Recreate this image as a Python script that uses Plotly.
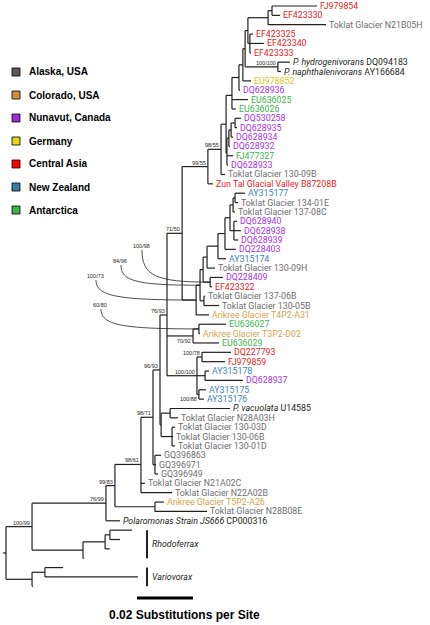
import plotly.graph_objects as go
from functools import lru_cache

# ------------------------------------------------------------------ data
leaf_names = [
    "FJ979854", "EF423330", "Toklat Glacier N21B05H", "EF423325", "EF423340", "EF423333",
    "<i>P. hydrogenivorans</i> DQ094183", "<i>P. naphthalenivorans</i> AY166684",
    "EU978852", "DQ628936", "EU636025", "EU636026", "DQ530258", "DQ628935", "DQ628934",
    "DQ628932", "FJ477327", "DQ628933", "Toklat Glacier 130-09B", "Zun Tal Glacial Valley B87208B",
    "AY315177", "Toklat Glacier 134-01E", "Toklat Glacier 137-08C", "DQ628940", "DQ628938",
    "DQ628939", "DQ228403", "AY315174", "Toklat Glacier 130-09H", "DQ228409", "EF423322",
    "Toklat Glacier 137-06B", "Toklat Glacier 130-05B", "Arikree Glacier T4P2-A31", "EU636027",
    "Arikree Glacier T3P2-D02", "EU636029", "DQ227793", "FJ979859", "AY315178", "DQ628937",
    "AY315175", "AY315176", "<i>P. vacuolata</i> U14585", "Toklat Glacier N28A03H",
    "Toklat Glacier 130-03D", "Toklat Glacier 130-06B", "Toklat Glacier 130-01D",
    "GQ396863", "GQ396971", "GQ396949", "Toklat Glacier N21A02C", "Toklat Glacier N22A02B",
    "Arikree Glacier T5P2-A26", "Toklat Glacier N28B08E",
    "<i>Polaromonas Strain JS666</i> CP000316",
    "", "", "", "", "", "", "",
]
leaf_region = [
    "CA", "CA", "AK", "CA", "CA", "CA", "REF", "REF", "DE", "NU", "AN", "AN", "NU", "NU", "NU",
    "NU", "AN", "NU", "AK", "CA",
    "NZ", "AK", "AK", "NU", "NU", "NU", "NU", "NZ", "AK", "NU", "CA", "AK", "AK", "CO", "AN",
    "CO", "AN",
    "CA", "CA", "NZ", "NU", "NZ", "NZ", "REF", "AK", "AK", "AK", "AK", "AK", "AK", "AK", "AK",
    "AK", "CO", "AK", "REF",
    "OUT", "OUT", "OUT", "OUT", "OUT", "OUT", "OUT",
]
leaf_depth = [
    0.1111, 0.0979, 0.1143, 0.0882, 0.0921, 0.0875, 0.1014, 0.0982, 0.0875, 0.0836,
    0.0864, 0.0821, 0.0839, 0.0825, 0.0811, 0.0800, 0.0811, 0.0793, 0.0782, 0.0739,
    0.0854, 0.0829, 0.0818, 0.0825, 0.0839, 0.0829, 0.0821, 0.0786, 0.0746, 0.0775,
    0.0736, 0.0711, 0.0761, 0.0725, 0.0786, 0.0693, 0.0761, 0.0804, 0.0782, 0.0725,
    0.0846, 0.0714, 0.0707, 0.0800, 0.0614, 0.0604, 0.0597, 0.0604, 0.0554, 0.0536,
    0.0543, 0.0496, 0.0593, 0.0564, 0.0718, 0.0407,
    0.0450, 0.0407, 0.0371, 0.0279, 0.0204, 0.0471, 0.0096,
]

node_names = ["n1", "n2", "n3", "n4", "n5", "n6", "n7", "n8", "n9", "n10", "n11", "n12", "n13",
              "n14", "n15", "n16", "g1", "g2", "g3", "g4", "g5", "g6", "g7", "f", "i", "k1",
              "k2", "k3", "n71", "e2", "e3", "m78", "m", "m88", "m100", "n76", "v", "c130",
              "vc", "n96", "gq", "n98", "n61", "cc", "n83", "n99", "r2", "r1", "r", "n100",
              "va2", "va", "root"]
node_depth = [0.0950, 0.0936, 0.0871, 0.0971, 0.0864, 0.0854, 0.0846, 0.0832, 0.0807, 0.0818,
              0.0804, 0.0796, 0.0789, 0.0786, 0.0768, 0.0721, 0.0818, 0.0811, 0.0814, 0.0800,
              0.0782, 0.0757, 0.0718, 0.0729, 0.0707, 0.0704, 0.0693, 0.0679, 0.0629, 0.0689,
              0.0668, 0.0700, 0.0711, 0.0689, 0.0682, 0.0575, 0.0586, 0.0593, 0.0554, 0.0550,
              0.0532, 0.0525, 0.0482, 0.0532, 0.0389, 0.0357, 0.0371, 0.0354, 0.0275, 0.0093,
              0.0139, 0.0093, 0.0]
node_children = [
    [0, 1], ["n1", 2], [3, 4, 5], [6, 7], ["n2", "n3"], ["n5", "n4"], ["n6", 8], ["n7", 9],
    ["n8", 10, 11], [12, 13], ["n10", 14], ["n11", 15], ["n12", 16, 17], ["n9", "n13"],
    ["n14", 18], ["n15", 19],
    [20, 21], ["g1", 22], [23, 24, 25], ["g2", "g3"], ["g4", 26], ["g5", 27], ["g6", 28],
    [29, 30], [31, 32], ["g7", "f"], ["k1", "i"], ["k2", 33], ["n16", "k3"],
    [34, 35], ["e2", 36], [37, 38], [39, 40], [41, 42], ["m78", "m", "m88"],
    ["n71", "e3", "m100"], [43, 44], [45, 46, 47], ["v", "c130"], ["n76", "vc"],
    [48, 49, 50], ["n96", "gq"], ["n98", 51, 52], [53, 54], ["n61", "cc"], ["n83", 55],
    [56, 57], ["r2", 58], ["r1", 59], ["n99", "r"], [60, 61], ["va2", 62], ["n100", "va"],
]
node_support = ["", "", "", "100/100", "", "", "", "", "", "", "", "", "", "", "98/55", "99/55",
                "", "", "", "", "", "", "", "100/98", "", "", "84/96", "100/73", "71/50",
                "60/80", "70/92", "100/78", "", "100/88", "100/100", "76/93", "", "", "",
                "96/93", "", "98/71", "98/61", "", "99/83", "76/99", "", "", "", "100/99",
                "", "", ""]

region_codes = ["AK", "CO", "NU", "DE", "CA", "NZ", "AN"]
region_names = ["Alaska, USA", "Colorado, USA", "Nunavut, Canada", "Germany",
                "Central Asia", "New Zealand", "Antarctica"]

outgroup_names = ["Rhodoferrax", "Variovorax"]
outgroup_first = [56, 60]
outgroup_last = [59, 62]

scale_length = 0.02
scale_label = "0.02 Substitutions per Site"

# ------------------------------------------------------------------ styles / layout
W, H = 430, 625
PXX = 2800.0      # px per substitution unit
PXY = 9.36        # px per leaf row
ROOT_PX, ROW0_PX = 6, 6
x_range = [-ROOT_PX / PXX, (W - ROOT_PX) / PXX]
y_range = [(H - ROW0_PX) / PXY, -ROW0_PX / PXY]

LINE = "#231f20"
text_color = {"AK": "#6d6e71", "CO": "#d9a24a", "NU": "#a832e6", "DE": "#d8c81c",
              "CA": "#ec1c24", "NZ": "#3a86b8", "AN": "#3bb54a", "REF": "#231f20",
              "OUT": "#231f20"}
swatch_color = {"AK": "#5a5a5a", "CO": "#c8913a", "NU": "#9c2ed6", "DE": "#e2d31c",
                "CA": "#ff0000", "NZ": "#3a7ca5", "AN": "#3cb44b"}
below_nodes = {"e3", "m88"}
callout_pos = {"f": (141, 246), "k2": (120, 261), "k3": (95, 276), "e2": (100, 305)}  # px
outgroup_bar_px = 147
scale_x0_px, scale_y_px = 137, 598
scale_text_px = (184, 615)
legend_y0_px, legend_dy_px = 72, 23

LEAF_FONT = dict(family="Roboto", size=8.8)
SUP_FONT = dict(family="Liberation Sans", size=5.5, color=LINE)


def px2x(p):
    return (p - ROOT_PX) / PXX


def px2y(p):
    return (p - ROW0_PX) / PXY


node_index = {n: k for k, n in enumerate(node_names)}


@lru_cache(maxsize=None)
def pos(ref):
    if isinstance(ref, int):
        return leaf_depth[ref], float(ref)
    k = node_index[ref]
    ys = [pos(c)[1] for c in node_children[k]]
    return node_depth[k], sum(ys) / len(ys)


# ------------------------------------------------------------------ tree segments
xs, ys = [], []
for k, n in enumerate(node_names):
    nx, ny = pos(n)
    cys = []
    for c in node_children[k]:
        cx, cy = pos(c)
        xs += [nx, cx, None]
        ys += [cy, cy, None]
        cys.append(cy)
    xs += [nx, nx, None]
    ys += [min(cys), max(cys), None]
rx, ry = pos("root")
xs += [rx - 3 / PXX, rx, None]
ys += [ry, ry, None]

fig = go.Figure()
fig.add_trace(go.Scatter(x=xs, y=ys, mode="lines", line=dict(color=LINE, width=1.2),
                         hoverinfo="skip", showlegend=False, cliponaxis=False))

annotations = []
shapes = []

# leaf labels
for idx, name in enumerate(leaf_names):
    if not name:
        continue
    annotations.append(dict(x=leaf_depth[idx], y=idx, text=name, showarrow=False,
                            xanchor="left", yanchor="middle", xshift=1,
                            font=dict(color=text_color[leaf_region[idx]], **LEAF_FONT)))

# support values
for k, n in enumerate(node_names):
    s = node_support[k]
    if not s:
        continue
    nx, ny = pos(n)
    if n in callout_pos:
        lx, ly = callout_pos[n]
        annotations.append(dict(x=px2x(lx), y=px2y(ly), text=s, showarrow=False,
                                xanchor="center", yanchor="middle", font=SUP_FONT))
        sx, sy = px2x(lx + 1), px2y(ly + 4)
        c1 = (sx, sy + 0.8 * (ny - sy))
        c2 = (sx + 0.2 * (nx - sx), ny)
        shapes.append(dict(type="path", xref="x", yref="y",
                           path=f"M {sx},{sy} C {c1[0]},{c1[1]} {c2[0]},{c2[1]} {nx},{ny}",
                           line=dict(color=LINE, width=0.8)))
    elif n in below_nodes:
        annotations.append(dict(x=nx, y=ny, text=s, showarrow=False, xanchor="right",
                                yanchor="top", xshift=-1, yshift=-1, borderpad=0,
                                font=SUP_FONT))
    else:
        annotations.append(dict(x=nx, y=ny, text=s, showarrow=False, xanchor="right",
                                yanchor="bottom", xshift=-1, yshift=0, borderpad=0,
                                font=SUP_FONT))

# outgroup bars and names
for name, a, b in zip(outgroup_names, outgroup_first, outgroup_last):
    bx = px2x(outgroup_bar_px)
    fig.add_trace(go.Scatter(x=[bx, bx], y=[a, b], mode="lines",
                             line=dict(color=LINE, width=2), hoverinfo="skip",
                             showlegend=False))
    annotations.append(dict(x=bx, y=(a + b) / 2, text=f"<i>{name}</i>", showarrow=False,
                            xanchor="left", yanchor="middle", xshift=3,
                            font=dict(color=LINE, **LEAF_FONT)))

# scale bar
sx0 = px2x(scale_x0_px)
fig.add_trace(go.Scatter(x=[sx0, sx0 + scale_length], y=[px2y(scale_y_px)] * 2, mode="lines",
                         line=dict(color="black", width=3), hoverinfo="skip", showlegend=False))
annotations.append(dict(x=px2x(scale_text_px[0]), y=px2y(scale_text_px[1]),
                        text=f"<b>{scale_label}</b>", showarrow=False, xanchor="center",
                        yanchor="middle",
                        font=dict(family="Liberation Sans", size=12, color="black")))

# region legend (manual)
for i, (code, name) in enumerate(zip(region_codes, region_names)):
    cy = legend_y0_px + i * legend_dy_px
    shapes.append(dict(type="rect", xref="paper", yref="paper",
                       x0=12 / W, x1=20 / W, y0=1 - (cy + 4) / H, y1=1 - (cy - 4) / H,
                       fillcolor=swatch_color[code], line=dict(color="black", width=0.8)))
    annotations.append(dict(x=27 / W, y=1 - cy / H, xref="paper", yref="paper",
                            text=f"<b>{name}</b>", showarrow=False, xanchor="left",
                            yanchor="middle",
                            font=dict(family="Liberation Sans", size=10, color="black")))

fig.update_layout(
    width=W, height=H, margin=dict(l=0, r=0, t=0, b=0),
    paper_bgcolor="white", plot_bgcolor="white",
    xaxis=dict(range=x_range, visible=False, fixedrange=True),
    yaxis=dict(range=y_range, visible=False, fixedrange=True),
    annotations=annotations, shapes=shapes, showlegend=False,
)
fig.write_html("out.html", config={"displayModeBar": False},
               post_script="document.body.style.margin='0px';")
